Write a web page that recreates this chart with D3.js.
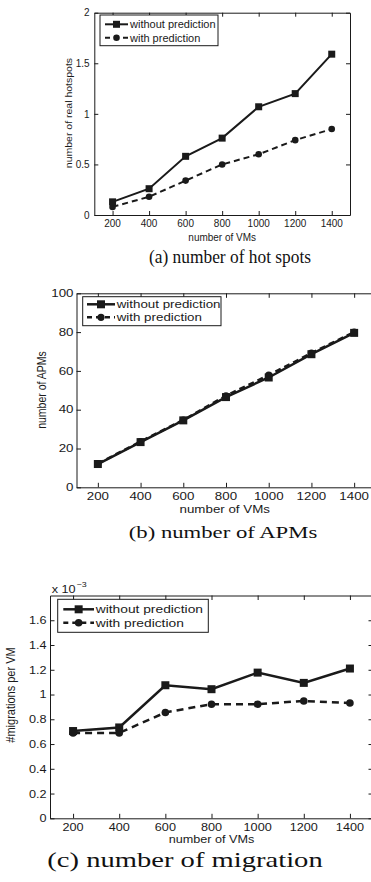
<!DOCTYPE html>
<html><head><meta charset="utf-8">
<script src="https://cdn.jsdelivr.net/npm/d3@7"></script>
<style>body{margin:0;background:#fff}svg{display:block}</style>
</head><body><svg id="c" width="371" height="882"></svg>
<script>
// ---------------- data ----------------
const vms = [200, 400, 600, 800, 1000, 1200, 1400];
const xTicks = [200, 400, 600, 800, 1000, 1200, 1400];
const seriesNames = ["without prediction", "with prediction"];
const xLabel = "number of VMs";

const hotWithout = [0.13, 0.26, 0.58, 0.76, 1.07, 1.20, 1.59];
const hotWith    = [0.08, 0.18, 0.34, 0.50, 0.60, 0.74, 0.85];
const hotTicks   = [0, 0.5, 1, 1.5, 2];

const apmWithout = [12, 23.3, 34.5, 46.5, 56.6, 68.6, 79.6];
const apmWith    = [12.2, 23.6, 34.7, 47.2, 57.8, 69.2, 80.0];
const apmTicks   = [0, 20, 40, 60, 80, 100];

const migWithout = [0.705, 0.734, 1.075, 1.043, 1.177, 1.094, 1.21];  // x 10^-3
const migWith    = [0.69, 0.69, 0.855, 0.922, 0.922, 0.948, 0.932];   // x 10^-3
const migTicks   = [0, 0.2, 0.4, 0.6, 0.8, 1, 1.2, 1.4, 1.6];

const captions = ["(a) number of hot spots", "(b) number of APMs", "(c) number of migration"];
const yLabels  = ["number of real hotspots", "number of APMs", "#migrations per VM"];

// ---------------- layout ----------------
const panels = [
  {without: hotWithout, with: hotWith, ticks: hotTicks, yMax: 2, cap: captions[0], ylab: yLabels[0],
   left: 94.3, right: 350, top: 12.7, bottom: 215, fs: 10.5, sx: 0.95, lfs: 11, lsx: 1.0,
   tick: 4, lw: 2, ms: 7, cr: 3.3, dash: "6,4",
   yTickX: 89.5, xTickBase: 226.5, xLabelBase: 240.5,
   capX: 230, capBase: 263, capFs: 18.5, capSx: 0.94, yLabX: 72, yLabY: 113,
   lg: {x0: 100, x1: 218, y0: 15, y1: 45.7, r1: 24.3, r2: 37.7, s0: 105, s1: 128, tx: 130}},
  {without: apmWithout, with: apmWith, ticks: apmTicks, yMax: 100, cap: captions[1], ylab: yLabels[1],
   left: 76.5, right: 375.5, top: 293.3, bottom: 487.3, fs: 10.5, sx: 1.27, lfs: 10.5, lsx: 1.27,
   tick: 4.5, lw: 2.5, ms: 8, cr: 3.6, dash: "6,4",
   yTickX: 73.5, xTickBase: 499.5, xLabelBase: 513,
   capX: 223, capBase: 538, capFs: 17.6, capSx: 1.29, yLabX: 46, yLabY: 390,
   lg: {x0: 82.7, x1: 221, y0: 296.7, y1: 325.7, r1: 304.3, r2: 317.3, s0: 87, s1: 115, tx: 116.7}},
  {without: migWithout, with: migWith, ticks: migTicks, yMax: 1.8, cap: captions[2], ylab: yLabels[2],
   left: 50, right: 373, top: 595.5, bottom: 818.3, fs: 11, sx: 1.15, lfs: 11.5, lsx: 1.2,
   tick: 4.5, lw: 2.5, ms: 8, cr: 3.8, dash: "7,5",
   yTickX: 46.5, xTickBase: 830.7, xLabelBase: 843,
   capX: 185, capBase: 867, capFs: 21.5, capSx: 1.33, yLabX: 14.5, yLabY: 695,
   lg: {x0: 57.7, x1: 208.3, y0: 599.3, y1: 632.3, r1: 609.3, r2: 622.7, s0: 63.3, s1: 94, tx: 95.7},
   exponent: {x: 51.7, y: 592.5}}
];

const svg = d3.select("#c");
const INK = "#1a1a1a";
const SANS = "'Liberation Sans', Arial, Helvetica, sans-serif";
const SERIF = "'Liberation Serif', 'Times New Roman', serif";

function txt(parent, x, y, s, o) {
  const g = parent.append("g")
    .attr("transform", `translate(${x},${y}) scale(${o.sx || 1},1)` + (o.rot ? ` rotate(${o.rot})` : ""));
  return g.append("text").attr("x", 0).attr("y", 0)
    .attr("font-family", o.family || SANS).attr("font-size", o.size)
    .attr("text-anchor", o.anchor || "start").attr("fill", o.fill || INK).text(s);
}

function fmt(v) { return String(+v.toFixed(2)); }

panels.forEach(p => {
  const g = svg.append("g");
  const x = d3.scaleLinear().domain([100, 1500]).range([p.left, p.right]);
  const y = d3.scaleLinear().domain([0, p.yMax]).range([p.bottom, p.top]);

  // axes with inward ticks (bottom/left with labels handled separately)
  const axB = d3.axisBottom(x).tickValues(xTicks).tickSizeInner(-p.tick).tickSizeOuter(0).tickFormat("");
  const axT = d3.axisTop(x).tickValues(xTicks).tickSizeInner(-p.tick).tickSizeOuter(0).tickFormat("");
  const axL = d3.axisLeft(y).tickValues(p.ticks).tickSizeInner(-p.tick).tickSizeOuter(0).tickFormat("");
  const axR = d3.axisRight(y).tickValues(p.ticks).tickSizeInner(-p.tick).tickSizeOuter(0).tickFormat("");
  [[axB, `translate(0,${p.bottom})`], [axT, `translate(0,${p.top})`],
   [axL, `translate(${p.left},0)`], [axR, `translate(${p.right},0)`]].forEach(([ax, tr]) => {
    const a = g.append("g").attr("transform", tr).call(ax);
    a.selectAll("path,line").attr("stroke", INK).attr("stroke-width", 1);
  });

  // tick labels
  xTicks.forEach(t => txt(g, x(t), p.xTickBase, String(t), {size: p.fs, sx: p.sx, anchor: "middle"}));
  p.ticks.forEach(t => txt(g, p.yTickX, y(t) + p.fs * 0.36, fmt(t), {size: p.fs, sx: p.sx, anchor: "end"}));

  // axis labels
  txt(g, (p.left + Math.min(p.right, 371)) / 2 + (p.right > 371 ? 1 : 0), p.xLabelBase, xLabel,
      {size: p.fs, sx: p.sx, anchor: "middle"});
  txt(g, p.yLabX, p.yLabY, p.ylab, {size: p.fs, sx: p.sx, anchor: "middle", rot: -90});

  if (p.exponent) {
    txt(g, p.exponent.x, p.exponent.y, "x 10", {size: p.fs, sx: p.sx});
    txt(g, p.exponent.x + 25, p.exponent.y - 6, "\u22123", {size: p.fs * 0.7, sx: p.sx});
  }

  // series
  const line = d3.line().x((d, i) => x(vms[i])).y(d => y(d));
  g.append("path").datum(p.with).attr("d", line).attr("fill", "none")
    .attr("stroke", INK).attr("stroke-width", p.lw).attr("stroke-dasharray", p.dash);
  g.append("path").datum(p.without).attr("d", line).attr("fill", "none")
    .attr("stroke", INK).attr("stroke-width", p.lw);
  g.selectAll(null).data(p.with).enter().append("circle")
    .attr("cx", (d, i) => x(vms[i])).attr("cy", d => y(d)).attr("r", p.cr).attr("fill", INK);
  g.selectAll(null).data(p.without).enter().append("rect")
    .attr("x", (d, i) => x(vms[i]) - p.ms / 2).attr("y", d => y(d) - p.ms / 2)
    .attr("width", p.ms).attr("height", p.ms).attr("fill", INK);

  // legend
  const L = p.lg;
  g.append("rect").attr("x", L.x0).attr("y", L.y0).attr("width", L.x1 - L.x0).attr("height", L.y1 - L.y0)
    .attr("fill", "#fff").attr("stroke", INK).attr("stroke-width", 1);
  const mid = (L.s0 + L.s1) / 2;
  g.append("line").attr("x1", L.s0).attr("x2", L.s1).attr("y1", L.r1).attr("y2", L.r1)
    .attr("stroke", INK).attr("stroke-width", p.lw);
  g.append("rect").attr("x", mid - p.ms / 2).attr("y", L.r1 - p.ms / 2).attr("width", p.ms).attr("height", p.ms).attr("fill", INK);
  g.append("line").attr("x1", L.s0).attr("x2", L.s1).attr("y1", L.r2).attr("y2", L.r2)
    .attr("stroke", INK).attr("stroke-width", p.lw).attr("stroke-dasharray", "5,4").attr("stroke-dashoffset", 0);
  g.append("circle").attr("cx", mid).attr("cy", L.r2).attr("r", p.cr).attr("fill", INK);
  txt(g, L.tx, L.r1 + p.lfs * 0.36, seriesNames[0], {size: p.lfs, sx: p.lsx});
  txt(g, L.tx, L.r2 + p.lfs * 0.36, seriesNames[1], {size: p.lfs, sx: p.lsx});

  // caption
  txt(g, p.capX, p.capBase, p.cap, {size: p.capFs, sx: p.capSx, anchor: "middle", family: SERIF, fill: "#111"});
});
</script>
</body></html>
